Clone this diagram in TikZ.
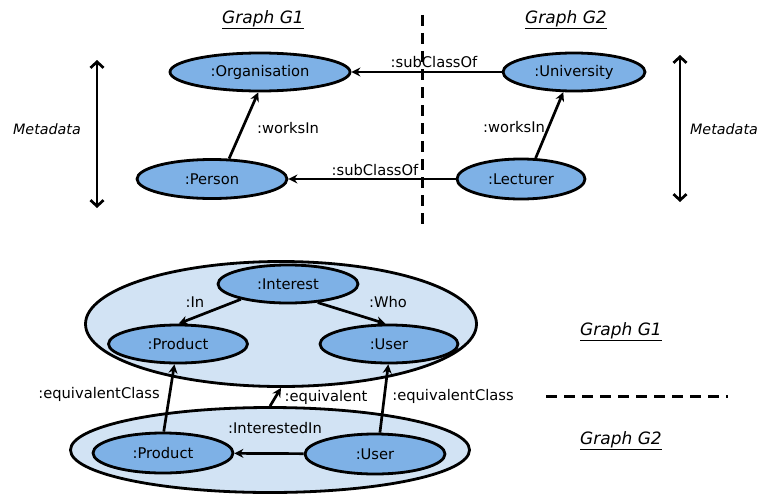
\documentclass[tikz,border=0pt]{standalone}
\usepackage{fontspec}
\setmainfont{DejaVu Sans}
\usetikzlibrary{shapes.geometric,arrows.meta}
\definecolor{nodeblue}{HTML}{7EB1E6}
\definecolor{groupblue}{HTML}{D2E3F4}
\begin{document}
\begin{tikzpicture}[x=1pt,y=-1pt,
  ell/.style={ellipse, draw=black, line width=2.8pt, fill=nodeblue, inner sep=0pt, font=\fontsize{14.7}{17}\selectfont},
  grp/.style={ellipse, draw=black, line width=2.8pt, fill=groupblue, inner sep=0pt},
  lbl/.style={inner sep=0pt, font=\fontsize{14.7}{17}\selectfont},
  meta/.style={inner sep=0pt, font=\fontsize{14.3}{17}\selectfont\itshape},
  ttl/.style={inner sep=0pt, font=\fontsize{17}{20}\selectfont\itshape},
  arr/.style={line width=2.7pt, -{Stealth[length=9pt,width=9pt]}},
  dbl/.style={line width=2.7pt, {Straight Barb[length=6pt,width=13pt,line width=2.7pt]}-{Straight Barb[length=6pt,width=13pt,line width=2.7pt]}},
  sep/.style={line width=3pt, dash pattern=on 11pt off 7pt}]
\useasboundingbox (0,0) rectangle (759,495);

% ---------- upper part ----------
\node[ttl] (t1) at (263,20) {\underline{Graph G1}};
\node[ttl] (t2) at (566,20) {\underline{Graph G2}};

\coordinate (vtop) at (422,15);
\coordinate (vbot) at (422,225);
\draw[sep] (vtop) -- (vbot);

\node[ell, minimum width=180pt, minimum height=38pt] (org) at (260,72) {:Organisation};
\node[ell, minimum width=150pt, minimum height=39pt] (pers) at (212,179) {:Person};
\node[ell, minimum width=142pt, minimum height=38pt] (univ) at (574,72) {:University};
\node[ell, minimum width=128pt, minimum height=40pt] (lect) at (521,179) {:Lecturer};

\draw[arr] (univ) -- (org);
\draw[arr] (lect) -- (pers);
\draw[arr] (pers.50) -- (org.-95);
\draw[arr] (lect.55) -- (univ.-118);

\node[lbl] (l1) at (434,62) {:subClassOf};
\node[lbl] (l2) at (375,170) {:subClassOf};
\node[lbl] (l3) at (288,128) {:worksIn};
\node[lbl] (l4) at (514,127) {:worksIn};

\coordinate (la1) at (97,60);
\coordinate (la2) at (97,208);
\draw[dbl] (la1) -- (la2);
\coordinate (ra1) at (680,55);
\coordinate (ra2) at (680,202);
\draw[dbl] (ra1) -- (ra2);
\node[meta] (m1) at (47,129) {Metadata};
\node[meta] (m2) at (724,129) {Metadata};

% ---------- lower part ----------
\node[grp, minimum width=391pt, minimum height=125pt] (g1) at (281,324) {};
\node[grp, minimum width=399pt, minimum height=85pt] (g2) at (270,450) {};

\node[ell, minimum width=140pt, minimum height=38pt] (int) at (288,284) {:Interest};
\node[ell, minimum width=139pt, minimum height=38pt] (prodA) at (178,344) {:Product};
\node[ell, minimum width=138pt, minimum height=38pt] (userA) at (389,344) {:User};
\node[ell, minimum width=140pt, minimum height=40pt] (prodB) at (163,453) {:Product};
\node[ell, minimum width=140pt, minimum height=40pt] (userB) at (375,454) {:User};

\draw[arr] (int.-162) -- (prodA.88);
\draw[arr] (int.-32) -- (userA.100);
\draw[arr] (prodB.88) -- (prodA.-100);
\draw[arr] (userB.77) -- (userA.-92);
\draw[arr] (g2.north) -- (g1.south);
\draw[arr] (userB) -- (prodB);

\node[lbl] (e1) at (195,302) {:In};
\node[lbl] (e2) at (388,302) {:Who};
\node[lbl] (e3) at (99,394) {:equivalentClass};
\node[lbl] (e4) at (453,396) {:equivalentClass};
\node[lbl] (e5) at (326,397) {:equivalent};
\node[lbl] (e6) at (275,428) {:InterestedIn};

\coordinate (h1) at (546,396);
\coordinate (h2) at (728,396);
\draw[sep] (h1) -- (h2);
\node[ttl] (t3) at (621,332) {\underline{Graph G1}};
\node[ttl] (t4) at (621,441) {\underline{Graph G2}};
\end{tikzpicture}
\end{document}
